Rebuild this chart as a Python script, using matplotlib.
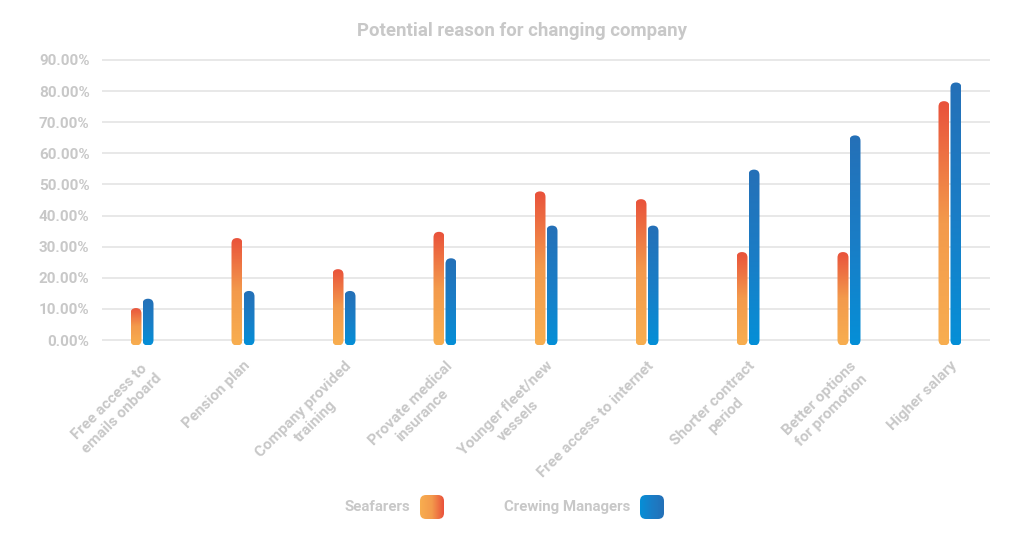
import numpy as np
import matplotlib
matplotlib.use("Agg")
import matplotlib.pyplot as plt
from matplotlib.colors import LinearSegmentedColormap
from matplotlib.patches import FancyBboxPatch

categories = [
    "Free access to\nemails onboard",
    "Pension plan",
    "Company provided\ntraining",
    "Provate medical\ninsurance",
    "Younger fleet/new\nvessels",
    "Free access to internet",
    "Shorter contract\nperiod",
    "Better options\nfor promotion",
    "Higher salary",
]
seafarers = [8.5, 31.0, 21.0, 33.0, 46.0, 43.5, 26.5, 26.5, 75.0]
crewing = [11.5, 14.0, 14.0, 24.5, 35.0, 35.0, 53.0, 64.0, 81.0]
series_names = ["Seafarers", "Crewing Managers"]
yticks = [0, 10, 20, 30, 40, 50, 60, 70, 80, 90]

TXT = "#c8c8c8"
GRID = "#e8e8e8"
orange_cmap = LinearSegmentedColormap.from_list("o", ["#f8ae50", "#f39a4c", "#e9513b"])
blue_cmap = LinearSegmentedColormap.from_list("b", ["#058fd7", "#1a7dc6", "#2570b7"])

W, H = 1024, 558
fig = plt.figure(figsize=(W / 100, H / 100), dpi=100)
ymin, ymax = -2.0, 91.0
ppy = 280 / 90.0  # px per %
top_px = 60 - (ymax - 90) * ppy
bot_px = 340 + (0 - ymin) * ppy
ax = fig.add_axes([102 / W, 1 - bot_px / H, 888 / W, (bot_px - top_px) / H])

ppx = 101.0  # px per category
xlo = (102 - 142) / ppx
xhi = (990 - 142) / ppx

# gridlines
for v in yticks:
    ax.axhline(v, color=GRID, lw=1.4, zorder=0)

bar_w = 11 / ppx
off = 6 / ppx
r_y = 5.5 / ppy
aspect = ppx / ppy
grad = np.linspace(0, 1, 256).reshape(-1, 1)

x = np.arange(len(categories))
for vals, cmap, sign in [(seafarers, orange_cmap, -1), (crewing, blue_cmap, 1)]:
    for xi, v in zip(x, vals):
        x0 = xi + sign * off - bar_w / 2
        y0, y1 = -r_y, v + r_y
        patch = FancyBboxPatch((x0, y0), bar_w, y1 - y0,
                               boxstyle=f"round,pad=0,rounding_size={bar_w / 2}",
                               mutation_aspect=aspect, transform=ax.transData,
                               fc="none", ec="none")
        ax.add_patch(patch)
        im = ax.imshow(grad, cmap=cmap, origin="lower", aspect="auto",
                       extent=[x0, x0 + bar_w, y0, y1], zorder=2,
                       interpolation="bilinear")
        im.set_clip_path(patch)

ax.set_xlim(xlo, xhi)
ax.set_ylim(ymin, ymax)
for s in ax.spines.values():
    s.set_visible(False)

ax.set_yticks(yticks)
ax.set_yticklabels([f"{v:.2f}%" for v in yticks], fontfamily="Roboto",
                   fontweight="bold", fontsize=11, color=TXT)
ax.set_xticks(x)
ax.set_xticklabels(categories, rotation=45, ha="right", va="top",
                   rotation_mode="anchor", multialignment="center",
                   linespacing=1.3, fontfamily="Roboto", fontweight="bold",
                   fontsize=11, color=TXT)
ax.tick_params(axis="both", length=0)
ax.tick_params(axis="y", pad=9)
ax.tick_params(axis="x", pad=9)

fig.text(522 / W, 1 - 31 / H, "Potential reason for changing company",
         ha="center", va="center", fontfamily="Roboto", fontweight="bold",
         fontsize=13.4, color=TXT)

# legend with gradient swatches
hgrad = np.linspace(0, 1, 256).reshape(1, -1)
for name, cmap, tx, sx in [(series_names[0], orange_cmap, 410, 420),
                           (series_names[1], blue_cmap, 630, 640)]:
    fig.text(tx / W, 1 - 507 / H, name, ha="right", va="center",
             fontfamily="Roboto", fontweight="bold", fontsize=10.8, color=TXT)
    sax = fig.add_axes([sx / W, 1 - 519 / H, 24 / W, 24 / H])
    sax.axis("off")
    sp = FancyBboxPatch((0, 0), 1, 1, boxstyle="round,pad=0,rounding_size=0.25",
                        transform=sax.transAxes, fc="none", ec="none")
    sax.add_patch(sp)
    im = sax.imshow(hgrad, cmap=cmap, aspect="auto", extent=[0, 1, 0, 1])
    im.set_clip_path(sp)
    sax.set_xlim(0, 1)
    sax.set_ylim(0, 1)

fig.savefig("out.png", dpi=100)
